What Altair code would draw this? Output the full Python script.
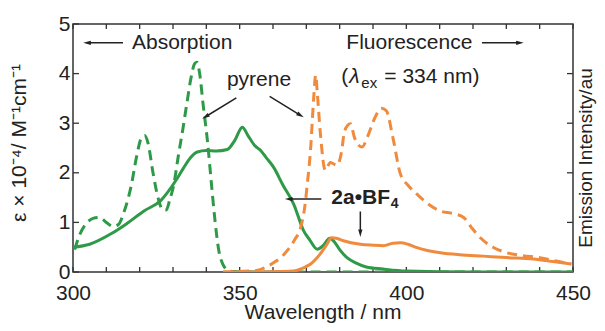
import altair as alt
import pandas as pd

# ---------------- data ----------------
# pyrene absorption (green dashed)
pyr_abs_x = [300.5, 302, 304, 306, 308, 310, 312, 313.5, 315.5, 317.5, 319, 320.5, 321.5, 322.5,
             324, 325.5, 327, 328, 329, 330.3, 331.5, 333, 334.3, 335.5, 336.5, 337.2, 338, 339,
             340.4, 341.5, 342.5, 343.7, 345, 346.5, 348, 360, 400, 450]
pyr_abs_y = [0.45, 0.75, 0.98, 1.08, 1.1, 1.0, 0.92, 0.95, 1.25, 1.75, 2.3, 2.7, 2.75, 2.6,
             2.0, 1.5, 1.25, 1.25, 1.45, 1.78, 2.3, 2.9, 3.46, 3.95, 4.2, 4.23, 4.0, 3.4,
             2.6, 1.8, 1.1, 0.45, 0.15, 0.04, 0.01, 0.0, 0.0, 0.0]

# 2a·BF4 absorption (green solid)
bf4_abs_x = [300, 305, 311.4, 316, 321.3, 326.3, 330.8, 333, 335.3, 337.3, 340, 343, 346.3,
             348.5, 350.8, 352.5, 354.5, 356.3, 358, 360.2, 363, 366.2, 369.2, 371, 373.3,
             375, 377, 378.5, 380, 382.2, 385, 388, 393, 400, 420, 450]
bf4_abs_y = [0.5, 0.56, 0.77, 0.97, 1.23, 1.44, 1.84, 2.08, 2.31, 2.42, 2.45, 2.44, 2.47,
             2.65, 2.92, 2.75, 2.55, 2.45, 2.3, 2.11, 1.75, 1.37, 0.83, 0.65, 0.46,
             0.53, 0.68, 0.6, 0.45, 0.29, 0.18, 0.1, 0.06, 0.02, 0.0, 0.0]

# pyrene fluorescence (orange dashed)
pyr_em_x = [345, 350, 355, 358, 360, 362.3, 364.5, 366.5, 368.3, 369.5, 370.3, 371.3, 372.2,
            372.8, 373.3, 374.2, 375.7, 377.2, 379.2, 380.5, 381.5, 383.2, 384.5, 386.7, 388.5,
            390.5, 392.5, 394, 396, 398.2, 400.5, 403.2, 406, 410.2, 414, 417.2, 419.5, 422.2,
            426, 430.1, 435, 440.1, 445, 449.5]
pyr_em_y = [0.0, 0.01, 0.03, 0.1, 0.18, 0.29, 0.45, 0.65, 0.9, 1.3, 1.78, 2.5, 3.5,
            3.97, 3.6, 2.8, 2.05, 2.21, 2.15, 2.4, 2.85, 2.99, 2.7, 2.52, 2.75,
            3.1, 3.3, 3.25, 2.7, 1.98, 1.75, 1.57, 1.4, 1.23, 1.18, 1.1, 0.9, 0.69,
            0.5, 0.39, 0.33, 0.29, 0.22, 0.16]

# 2a·BF4 fluorescence (orange solid)
bf4_em_x = [345, 355, 362, 366.2, 369, 371.3, 374, 376.2, 377.5, 379, 381.1, 386.2, 390, 393.1,
            396, 398.2, 400.5, 403.2, 406, 410.2, 416, 423.1, 430, 438.1, 444, 449.5]
bf4_em_y = [0.0, 0.0, 0.01, 0.02, 0.08, 0.16, 0.35, 0.56, 0.69, 0.68, 0.63, 0.56, 0.54, 0.53,
            0.58, 0.59, 0.56, 0.49, 0.44, 0.39, 0.35, 0.32, 0.29, 0.26, 0.21, 0.16]

x_ticks = list(range(300, 451, 10))
x_labels = [300, 350, 400, 450]
y_ticks = [0, 1, 2, 3, 4, 5]
y_right_ticks = [1, 2, 3, 4]

x_title = "Wavelength / nm"
left_title_text = "\u03b5 \u00d7 10\u207b\u2074/ M\u207b\u00b9cm\u207b\u00b9"
right_title_text = "Emission Intensity/au"

# annotation texts
ann_normal_text = ["Absorption", "Fluorescence", "(", "= 334 nm)"]
ann_normal_x = [317.7, 382.0, 380.5, 393.4]
ann_normal_y = [4.62, 4.62, 3.94, 3.94]
pyrene_label = "pyrene"
pyrene_xy = (355.8, 3.88)
lambda_xy = (382.9, 3.94)
ex_xy = (386.5, 3.82)
bf4_label = "2a\u2022BF"
bf4_xy = (377.5, 1.50)
bf4_sub_xy = (395.3, 1.37)

# arrows: start -> tip, head angle
arr_x1 = [315.0, 422.7, 349.0, 359.0, 374.5, 386.2]
arr_y1 = [4.62, 4.62, 3.51, 3.54, 1.47, 1.22]
arr_x2 = [304.5, 433.8, 340.0, 368.0, 365.0, 386.2]
arr_y2 = [4.62, 4.62, 3.14, 3.17, 1.47, 0.80]
arr_ang = [270, 90, 238, 121, 270, 180]

GREEN = "#2e9a47"
ORANGE = "#f08a3c"
TXT = "#222222"
FONT = "Liberation Sans"
W, H = 500, 248

xs = alt.Scale(domain=[300, 450], nice=False, zero=False)
ys = alt.Scale(domain=[0, 5], nice=False, zero=False)

X_AXIS = alt.Axis(values=x_labels, title=None, domain=False, ticks=False,
                  grid=False, labelFontSize=21, labelFont=FONT, labelColor=TXT,
                  labelPadding=10, format="d", labelFlush=False)
Y_AXIS = alt.Axis(values=y_ticks, title=None, domain=False, ticks=False, grid=False,
                  labelFontSize=21, labelFont=FONT, labelColor=TXT, labelPadding=3,
                  labelFlush=False)


def X(field):
    return alt.X(field, scale=xs, axis=X_AXIS)


def Y(field):
    return alt.Y(field, scale=ys, axis=Y_AXIS)


def series(xv, yv, color, dashed):
    df = pd.DataFrame({"wl": xv, "v": yv, "o": list(range(len(xv)))})
    kw = dict(color=color, strokeWidth=3, interpolate="monotone", clip=True)
    if dashed:
        kw["strokeDash"] = [10, 6]
    return alt.Chart(df).mark_line(**kw).encode(x=X("wl:Q"), y=Y("v:Q"), order="o:Q")


# ticks (inward) drawn as rules on the scales
xt = pd.DataFrame({"wl": x_ticks})
yt = pd.DataFrame({"v": y_ticks})
yrt = pd.DataFrame({"v": y_right_ticks})

bottom_ticks = alt.Chart(xt).mark_rule(color="#333", strokeWidth=1.3).encode(
    x=X("wl:Q"), y=alt.value(H), y2=alt.value(H - 5))
top_ticks = alt.Chart(xt).mark_rule(color="#333", strokeWidth=1.3).encode(
    x=X("wl:Q"), y=alt.value(0), y2=alt.value(5))
left_ticks = alt.Chart(yt).mark_rule(color="#333", strokeWidth=1.3).encode(
    y=Y("v:Q"), x=alt.value(0), x2=alt.value(6))
right_ticks = alt.Chart(yrt).mark_rule(color="#333", strokeWidth=1.3).encode(
    y=Y("v:Q"), x=alt.value(W), x2=alt.value(W - 6))

# axis titles as text
bottom_title = alt.Chart(pd.DataFrame({"t": [x_title]})).mark_text(
    fontSize=21, font=FONT, color=TXT, align="center", baseline="alphabetic").encode(
    text="t:N", x=alt.value(W / 2), y=alt.value(295))
left_title = alt.Chart(pd.DataFrame({"t": [left_title_text]})).mark_text(
    angle=270, fontSize=21, font=FONT, color=TXT, align="center", baseline="middle").encode(
    text="t:N", x=alt.value(-53), y=alt.value(119))
right_title = alt.Chart(pd.DataFrame({"t": [right_title_text]})).mark_text(
    angle=270, fontSize=19, font=FONT, color=TXT, align="center", baseline="middle").encode(
    text="t:N", x=alt.value(513), y=alt.value(134))


# annotations
def txt(df, **kw):
    base = dict(font=FONT, color=TXT, baseline="middle", align="left")
    base.update(kw)
    return alt.Chart(df).mark_text(**base).encode(x=X("wl:Q"), y=Y("v:Q"), text="t:N")


ann_normal = txt(pd.DataFrame({"wl": ann_normal_x, "v": ann_normal_y, "t": ann_normal_text}), fontSize=21)
ann_pyrene = txt(pd.DataFrame({"wl": [pyrene_xy[0]], "v": [pyrene_xy[1]], "t": [pyrene_label]}),
                 fontSize=21, align="center")
ann_lambda = txt(pd.DataFrame({"wl": [lambda_xy[0]], "v": [lambda_xy[1]], "t": ["\u03bb"]}),
                 fontSize=21, fontStyle="italic")
ann_ex = txt(pd.DataFrame({"wl": [ex_xy[0]], "v": [ex_xy[1]], "t": ["ex"]}), fontSize=15)
ann_bf4 = txt(pd.DataFrame({"wl": [bf4_xy[0]], "v": [bf4_xy[1]], "t": [bf4_label]}),
              fontSize=21, fontWeight="bold")
ann_bf4_sub = txt(pd.DataFrame({"wl": [bf4_sub_xy[0]], "v": [bf4_sub_xy[1]], "t": ["4"]}),
                  fontSize=14, fontWeight="bold")

arr = pd.DataFrame({"x1": arr_x1, "y1": arr_y1, "x2": arr_x2, "y2": arr_y2, "a": arr_ang})
arrow_lines = alt.Chart(arr).mark_rule(color=TXT, strokeWidth=1.5).encode(
    x=X("x1:Q"), y=Y("y1:Q"), x2="x2:Q", y2="y2:Q")
arrow_heads = alt.Chart(arr).mark_point(
    shape="M0,-1L0.45,0.6L-0.45,0.6Z", filled=True, color=TXT, opacity=1, size=90).encode(
    x=X("x2:Q"), y=Y("y2:Q"), angle=alt.Angle("a:Q", scale=None))

chart = alt.layer(
    bottom_ticks, top_ticks, left_ticks, right_ticks,
    series(pyr_abs_x, pyr_abs_y, GREEN, True),
    series(bf4_abs_x, bf4_abs_y, GREEN, False),
    series(pyr_em_x, pyr_em_y, ORANGE, True),
    series(bf4_em_x, bf4_em_y, ORANGE, False),
    arrow_lines, arrow_heads,
    ann_normal, ann_pyrene, ann_lambda, ann_ex, ann_bf4, ann_bf4_sub,
    bottom_title, left_title, right_title,
).properties(
    width=W, height=H,
    background="white",
    autosize=alt.AutoSizeParams(type="none"),
    padding={"left": 65, "top": 16, "right": 24, "bottom": 51},
).configure_view(stroke="#333", strokeWidth=1.5)

chart.save("out.html", embed_options={"renderer": "svg", "actions": False})
